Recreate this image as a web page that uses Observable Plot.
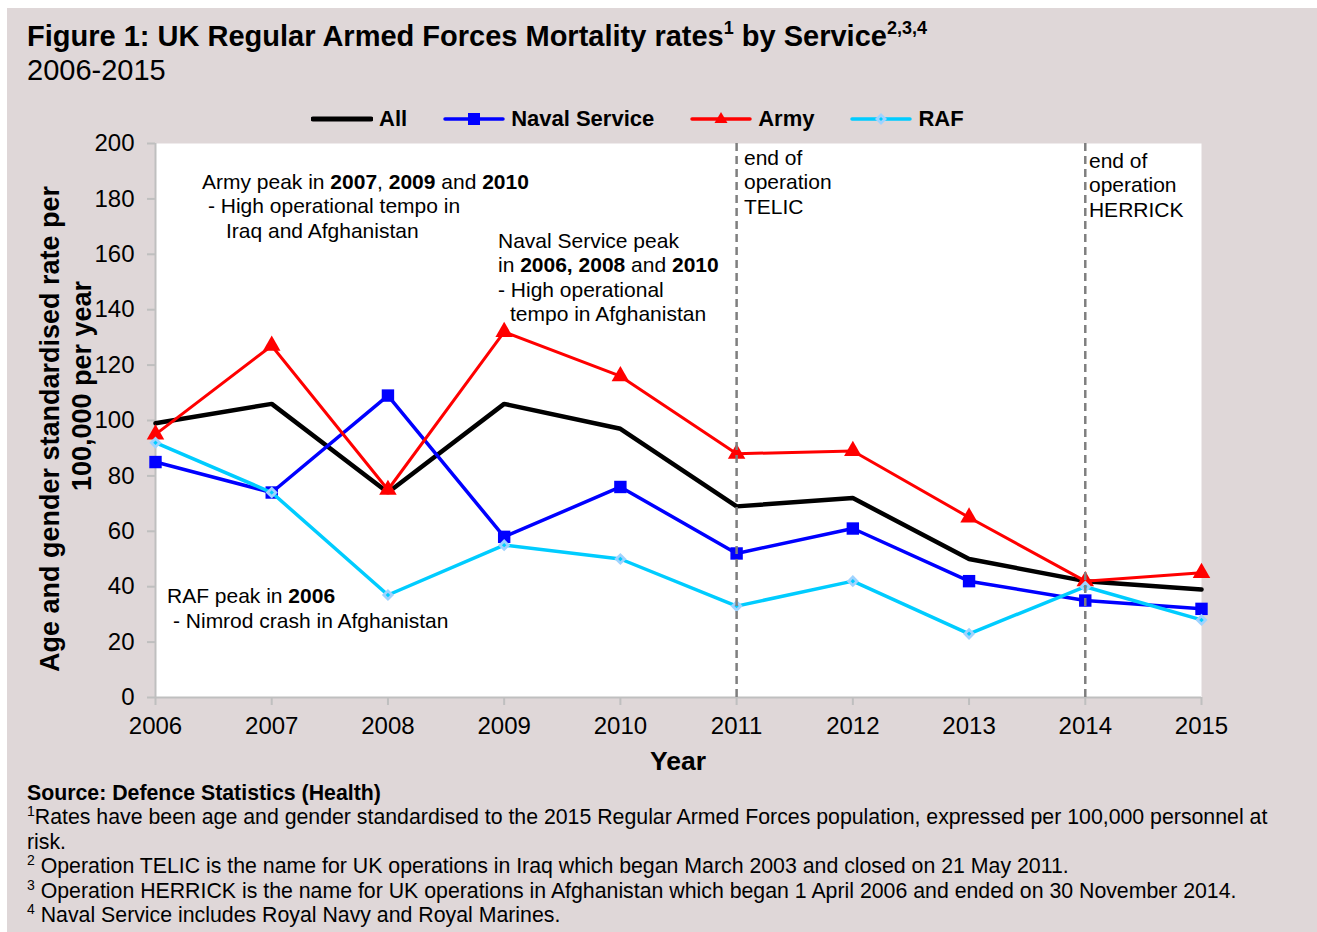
<!DOCTYPE html>
<html>
<head>
<meta charset="utf-8">
<script src="https://cdn.jsdelivr.net/npm/d3@7"></script>
<script src="https://cdn.jsdelivr.net/npm/@observablehq/plot@0.6"></script>
<style>
  html, body { margin: 0; padding: 0; background: #ffffff; }
  body { width: 1317px; height: 932px; position: relative; overflow: hidden; font-family: "Liberation Sans", Arial, sans-serif; color: #000; }
  #bg { position: absolute; left: 7px; top: 8px; width: 1310px; height: 924px; background: #DFD7D8; }
  .abs { position: absolute; white-space: nowrap; line-height: 1; }
  #title { left: 27px; top: 22px; font-size: 29px; font-weight: bold; }
  #title sup { font-size: 18px; vertical-align: 0; position: relative; top: -12px; }
  #subtitle { left: 27px; top: 56px; font-size: 29px; }
  #legend { left: 311px; top: 108px; display: flex; align-items: center; font-size: 22px; font-weight: bold; }
  .item { display: flex; align-items: center; margin-right: 36px; }
  .item svg { margin-right: 6px; }
  #chart { position: absolute; left: 0; top: 130px; }
  #notes { left: 27px; top: 781px; font-size: 21.3px; white-space: nowrap; }
  #notes div { height: 24.4px; line-height: 24.4px; }
  #notes sup { font-size: 14px; line-height: 0; vertical-align: 0; position: relative; top: -8px; }
</style>
</head>
<body>
<div id="bg"></div>
<div id="title" class="abs">Figure 1: UK Regular Armed Forces Mortality rates<sup>1</sup> by Service<sup>2,3,4</sup></div>
<div id="subtitle" class="abs">2006-2015</div>
<div id="legend" class="abs"></div>
<div id="chart"></div>
<div id="notes" class="abs"></div>
<script>
// ---- data ----
const years = [2006, 2007, 2008, 2009, 2010, 2011, 2012, 2013, 2014, 2015];
const allRate   = [99, 106, 74, 106, 97, 69, 72, 50, 42, 39];
const navalRate = [85, 74, 109, 58, 76, 52, 61, 42, 35, 32];
const armyRate  = [95, 127, 75, 132, 116, 88, 89, 65, 42, 45];
const rafRate   = [92, 74, 37, 55, 50, 33, 42, 23, 40, 28];
const seriesNames = ["All", "Naval Service", "Army", "RAF"];
const yTicks = [0, 20, 40, 60, 80, 100, 120, 140, 160, 180, 200];
const operationEnds = [2011, 2014];
const operationLabels = [["end of", "operation", "TELIC"], ["end of", "operation", "HERRICK"]];
const yTitleLines = ["Age and gender standardised rate per", "100,000 per year"];
const xTitle = "Year";
const footnotes = [
  [["", "Source: Defence Statistics (Health)", true]],
  [["1", "Rates have been age and gender standardised to the 2015 Regular Armed Forces population, expressed per 100,000 personnel at", false]],
  [["", "risk.", false]],
  [["2", " Operation TELIC is the name for UK operations in Iraq which began March 2003 and closed on 21 May 2011.", false]],
  [["3", " Operation HERRICK is the name for UK operations in Afghanistan which began 1 April 2006 and ended on 30 November 2014.", false]],
  [["4", " Naval Service includes Royal Navy and Royal Marines.", false]]
];

// ---- styles ----
const colors = {"All": "#000000", "Naval Service": "#0000FF", "Army": "#FF0000", "RAF": "#00CCFF"};
const widths = {"All": 4.5, "Naval Service": 3.5, "Army": 3, "RAF": 3.5};
const values = {"All": allRate, "Naval Service": navalRate, "Army": armyRate, "RAF": rafRate};

const rows = seriesNames.flatMap(s => years.map((yr, i) => ({series: s, year: yr, rate: values[s][i]})));
const sel = s => rows.filter(d => d.series === s);

const font = '"Liberation Sans", Arial, sans-serif';

const chart = Plot.plot({
  width: 1317,
  height: 647,
  marginLeft: 155,
  marginRight: 116,
  marginTop: 13,
  marginBottom: 80,
  style: {fontFamily: font, background: "transparent", color: "#000", overflow: "visible"},
  x: {type: "linear", domain: [2006, 2015]},
  y: {domain: [0, 200]},
  marks: [
    Plot.frame({fill: "white"}),
    Plot.axisX({ticks: years, tickFormat: d => String(d), tickSize: 8, tickPadding: 11, stroke: "#BFBFBF", strokeWidth: 2, fontSize: 24, label: null}),
    Plot.axisY({ticks: yTicks, tickSize: 8, tickPadding: 13, stroke: "#BFBFBF", strokeWidth: 2, fontSize: 24, label: null}),
    Plot.ruleY([0], {stroke: "#BFBFBF", strokeWidth: 2}),
    Plot.ruleX([2006], {stroke: "#BFBFBF", strokeWidth: 2}),
    // All
    Plot.line(sel("All"), {x: "year", y: "rate", stroke: colors["All"], strokeWidth: widths["All"], strokeLinejoin: "miter"}),
    // Naval
    Plot.line(sel("Naval Service"), {x: "year", y: "rate", stroke: colors["Naval Service"], strokeWidth: widths["Naval Service"]}),
    Plot.dot(sel("Naval Service"), {x: "year", y: "rate", symbol: "square", r: 7, fill: colors["Naval Service"], stroke: "none"}),
    // Army
    Plot.line(sel("Army"), {x: "year", y: "rate", stroke: colors["Army"], strokeWidth: widths["Army"]}),
    Plot.dot(sel("Army"), {x: "year", y: "rate", symbol: "triangle", r: 6.5, fill: colors["Army"], stroke: "none"}),
    // RAF
    Plot.line(sel("RAF"), {x: "year", y: "rate", stroke: colors["RAF"], strokeWidth: widths["RAF"]}),
    Plot.dot(sel("RAF"), {x: "year", y: "rate", symbol: "diamond2", r: 5.5, fill: "#9FD3FF", stroke: "none"}),
    Plot.dot(sel("RAF"), {x: "year", y: "rate", symbol: "diamond2", r: 2, fill: colors["RAF"], stroke: "none"}),
    // operation end lines
    Plot.ruleX(operationEnds, {stroke: "#7F7F7F", strokeWidth: 2.5, strokeDasharray: "8,5"})
  ]
});
document.getElementById("chart").appendChild(chart);

// ---- annotations (rich text positioned through the plot's scales) ----
const sx = chart.scale("x"), sy = chart.scale("y");
const svg = d3.select(chart);
const annotations = [
  {x: 2006.404, y: 183.4, lh: 24.5, lines: [
    {dx: 0, parts: [["Army peak in ", false], ["2007", true], [", ", false], ["2009", true], [" and ", false], ["2010", true]]},
    {dx: 6, parts: [["- High operational tempo in", false]]},
    {dx: 24, parts: [["Iraq and Afghanistan", false]]}
  ]},
  {x: 2008.951, y: 162.1, lh: 24.5, lines: [
    {dx: 0, parts: [["Naval Service peak", false]]},
    {dx: 0, parts: [["in ", false], ["2006, 2008", true], [" and ", false], ["2010", true]]},
    {dx: 0, parts: [["- High operational", false]]},
    {dx: 12, parts: [["tempo in Afghanistan", false]]}
  ]},
  {x: 2006.103, y: 33.9, lh: 24.5, lines: [
    {dx: 0, parts: [["RAF peak in ", false], ["2006", true]]},
    {dx: 6, parts: [["- Nimrod crash in Afghanistan", false]]}
  ]},
  {x: 2011.068, y: 192.1, lh: 24.5, lines: operationLabels[0].map(t => ({dx: 0, parts: [[t, false]]}))},
  {x: 2014.036, y: 191.0, lh: 24.5, lines: operationLabels[1].map(t => ({dx: 0, parts: [[t, false]]}))}
];
const g = svg.append("g").attr("font-family", font).attr("font-size", 21).attr("fill", "#000").attr("text-anchor", "start");
annotations.forEach(a => {
  a.lines.forEach((ln, i) => {
    const t = g.append("text").attr("x", sx.apply(a.x) + ln.dx).attr("y", sy.apply(a.y) + i * a.lh).attr("xml:space", "preserve");
    ln.parts.forEach(([txt, b]) => t.append("tspan").attr("font-weight", b ? "bold" : "normal").text(txt));
  });
});

// axis titles
const yMid = (sy.apply(0) + sy.apply(200)) / 2;
svg.append("text").attr("transform", `translate(50,${yMid + 9}) rotate(-90)`).attr("text-anchor", "middle").attr("dominant-baseline", "central")
  .attr("font-family", font).attr("font-size", 27).attr("font-weight", "bold").text(yTitleLines[0]);
svg.append("text").attr("transform", `translate(82,${yMid - 34}) rotate(-90)`).attr("text-anchor", "middle").attr("dominant-baseline", "central")
  .attr("font-family", font).attr("font-size", 27).attr("font-weight", "bold").text(yTitleLines[1]);
svg.append("text").attr("x", (sx.apply(2006) + sx.apply(2015)) / 2).attr("y", sy.apply(0) + 73).attr("text-anchor", "middle")
  .attr("font-family", font).attr("font-size", 26.5).attr("font-weight", "bold").text(xTitle);

// ---- legend ----
const legend = d3.select("#legend");
const markers = {"All": null, "Naval Service": "square", "Army": "triangle", "RAF": "diamond"};
seriesNames.forEach(s => {
  const it = legend.append("div").attr("class", "item");
  const sv = it.append("svg").attr("width", 62).attr("height", 20);
  sv.append("line").attr("x1", 2).attr("x2", 60).attr("y1", 10).attr("y2", 10)
    .attr("stroke", colors[s]).attr("stroke-width", s === "All" ? 5 : 3.5).attr("stroke-linecap", "round");
  if (markers[s] === "square") sv.append("rect").attr("x", 25).attr("y", 4).attr("width", 12).attr("height", 12).attr("fill", colors[s]);
  if (markers[s] === "triangle") sv.append("path").attr("d", "M31,3 L37.5,14 L24.5,14 Z").attr("fill", colors[s]);
  if (markers[s] === "diamond") {
    sv.append("path").attr("d", "M31,4 L37,10 L31,16 L25,10 Z").attr("fill", "#9FD3FF");
    sv.append("path").attr("d", "M31,8 L33,10 L31,12 L29,10 Z").attr("fill", colors[s]);
  }
  it.append("span").text(s);
});

// ---- footnotes ----
const notes = d3.select("#notes");
footnotes.forEach(line => {
  const d = notes.append("div");
  line.forEach(([sup, txt, bold]) => {
    if (sup) d.append("sup").text(sup);
    const sp = d.append("span").text(txt);
    if (bold) sp.style("font-weight", "bold");
  });
});
</script>
</body>
</html>
